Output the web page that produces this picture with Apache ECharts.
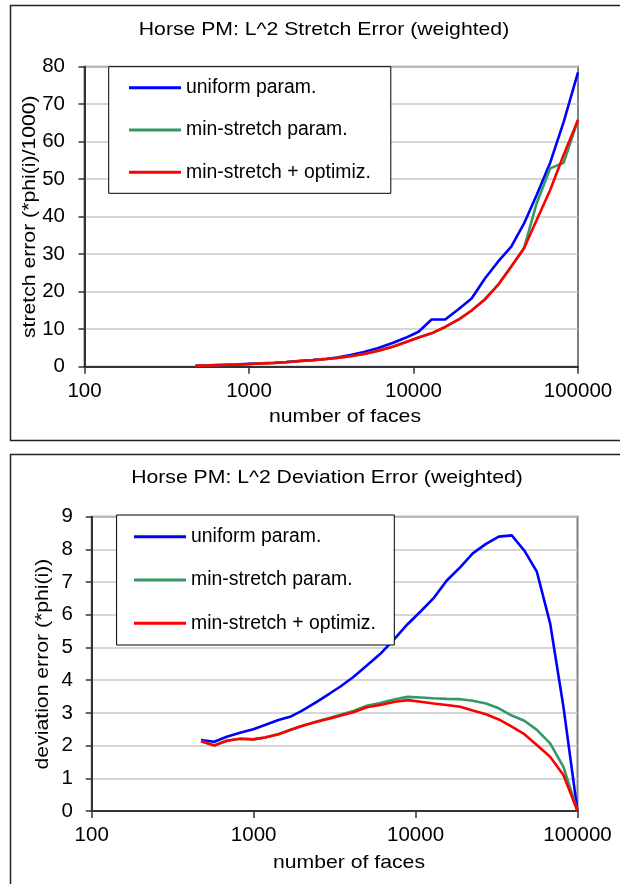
<!DOCTYPE html>
<html>
<head>
<meta charset="utf-8">
<script src="https://cdn.jsdelivr.net/npm/echarts@6/dist/echarts.min.js"></script>
<style>
html,body{margin:0;padding:0;background:#fff;}
#c{width:620px;height:884px;}
</style>
</head>
<body>
<div id="c"></div>
<script>
// ---- data ----
const faces = [473, 572, 682, 824, 995, 1175, 1422, 1679, 1982, 2453, 2964, 3420, 4130, 5000, 6039, 7467, 8950, 10740, 12880, 15590, 18840, 22550, 27240, 32640, 39290, 46990, 56080, 67760, 81850, 100000];
const seriesNames = ['uniform param.', 'min-stretch param.', 'min-stretch + optimiz.'];

// top chart: stretch error (*phi(i)/1000)
const stretchUniform   = [0.27, 0.37, 0.47, 0.58, 0.75, 0.9, 1.05, 1.25, 1.5, 1.8, 2.1, 2.45, 3.1, 3.9, 4.9, 6.3, 7.7, 9.33, 12.6, 12.6, 15.4, 18.2, 23.6, 28.0, 32.0, 38.2, 45.8, 54.4, 65.3, 78.5];
const stretchMinStr    = [0.25, 0.35, 0.45, 0.55, 0.7, 0.85, 1.0, 1.2, 1.45, 1.75, 2.05, 2.3, 2.8, 3.4, 4.2, 5.3, 6.5, 7.8, 8.9, 10.6, 12.6, 15.0, 18.0, 21.8, 26.7, 31.6, 43.6, 52.9, 54.4, 65.8];
const stretchOptimized = [0.25, 0.35, 0.45, 0.55, 0.7, 0.85, 1.0, 1.2, 1.45, 1.75, 2.05, 2.3, 2.8, 3.4, 4.2, 5.3, 6.5, 7.8, 8.9, 10.6, 12.6, 15.0, 18.0, 21.8, 26.7, 31.6, 39.1, 47.1, 56.5, 65.8];

// bottom chart: deviation error (*phi(i))
const devUniform   = [2.17, 2.12, 2.27, 2.39, 2.50, 2.63, 2.78, 2.88, 3.06, 3.34, 3.60, 3.80, 4.10, 4.45, 4.80, 5.28, 5.72, 6.10, 6.50, 7.05, 7.45, 7.88, 8.17, 8.39, 8.43, 7.96, 7.32, 5.74, 3.19, 0];
const devMinStr    = [2.13, 2.01, 2.15, 2.21, 2.19, 2.25, 2.35, 2.48, 2.60, 2.74, 2.85, 2.94, 3.06, 3.22, 3.30, 3.42, 3.49, 3.47, 3.45, 3.43, 3.42, 3.37, 3.29, 3.14, 2.92, 2.76, 2.48, 2.07, 1.35, 0];
const devOptimized = [2.13, 2.00, 2.15, 2.21, 2.19, 2.25, 2.35, 2.48, 2.60, 2.73, 2.83, 2.91, 3.02, 3.17, 3.24, 3.34, 3.39, 3.34, 3.29, 3.24, 3.19, 3.07, 2.96, 2.80, 2.58, 2.35, 2.02, 1.66, 1.10, 0];

const xTickLabels = ['100', '1000', '10000', '100000'];
const topTitle = 'Horse PM: L^2 Stretch Error (weighted)';
const botTitle = 'Horse PM: L^2 Deviation Error (weighted)';
const xName = 'number of faces';
const topYName = 'stretch error (*phi(i)/1000)';
const botYName = 'deviation error (*phi(i))';

// ---- styling ----
const FONT = '"Liberation Sans", Arial, sans-serif';
const colors = ['#0000ff', '#339966', '#ff0000'];
const pair = (vals) => faces.map((f, i) => [f, vals[i]]);

function xAxis(gi) {
  return {
    type: 'log', logBase: 10, min: 100, max: 100000, gridIndex: gi,
    axisLine: { show: true, lineStyle: { color: '#333', width: 2 } },
    axisTick: { show: true, inside: false, length: 7, lineStyle: { color: '#333', width: 1.5 } },
    splitLine: { show: false },
    minorTick: { show: false },
    axisLabel: {
      margin: 14, color: '#000', fontFamily: FONT, fontSize: 20.5,
      formatter: (v) => {
        const k = Math.round(Math.log10(v)) - 2;
        return xTickLabels[k] !== undefined ? xTickLabels[k] : '';
      }
    }
  };
}
function yAxis(gi, max, interval, margin) {
  return {
    type: 'value', min: 0, max: max, interval: interval, gridIndex: gi,
    axisLine: { show: true, lineStyle: { color: '#333', width: 2 } },
    axisTick: { show: true, inside: false, length: 6, lineStyle: { color: '#333', width: 1.5 } },
    splitLine: { show: true, lineStyle: { color: '#c8c8c8', width: 1.5 } },
    axisLabel: { margin: margin, color: '#000', fontFamily: FONT, fontSize: 20.5 }
  };
}
function line(name, gi, vals, ci) {
  return {
    name: name, type: 'line', xAxisIndex: gi, yAxisIndex: gi,
    data: pair(vals), showSymbol: false, symbol: 'none',
    lineStyle: { color: colors[ci], width: 2.6 }, itemStyle: { color: colors[ci] },
    animation: false, z: 2 + ci
  };
}
function txt(text, x, y, rot) {
  return {
    type: 'text', x: x, y: y, rotation: rot || 0, scaleX: 1.14, silent: true, z: 10,
    style: {
      text: text, font: '18.6px ' + FONT, fill: '#000',
      align: 'center', verticalAlign: 'middle', textAlign: 'center', textVerticalAlign: 'middle'
    }
  };
}
function legend(left, top, padding, gap) {
  return {
    orient: 'vertical', left: left, top: top, padding: padding, itemGap: gap,
    itemWidth: 52, itemHeight: 3, icon: 'rect',
    backgroundColor: '#fff', borderColor: '#000', borderWidth: 1,
    data: seriesNames, selectedMode: false,
    textStyle: { fontFamily: FONT, fontSize: 19.4, color: '#000', lineHeight: 22 }
  };
}

const chart = echarts.init(document.getElementById('c'), null, { renderer: 'canvas' });
chart.setOption({
  animation: false,
  backgroundColor: '#fff',
  grid: [
    { left: 84.5, top: 66.7, width: 493.5, height: 300, show: true, borderColor: '#808080', borderWidth: 2, backgroundColor: 'transparent' },
    { left: 91.7, top: 516.7, width: 485.8, height: 294.3, show: true, borderColor: '#808080', borderWidth: 2, backgroundColor: 'transparent' }
  ],
  xAxis: [xAxis(0), xAxis(1)],
  yAxis: [yAxis(0, 80, 10, 19.5), yAxis(1, 9, 1, 18.7)],
  legend: [
    legend(108.7, 66.7, [10, 20, 10, 20.3], 20.3),
    legend(116.6, 515, [10.7, 18.5, 10.7, 17.4], 21.3)
  ],
  series: [
    line(seriesNames[0], 0, stretchUniform, 0),
    line(seriesNames[1], 0, stretchMinStr, 1),
    line(seriesNames[2], 0, stretchOptimized, 2),
    line(seriesNames[0], 1, devUniform, 0),
    line(seriesNames[1], 1, devMinStr, 1),
    line(seriesNames[2], 1, devOptimized, 2)
  ],
  graphic: [
    { type: 'rect', silent: true, z: 0, shape: { x: 10.5, y: 5.5, width: 700, height: 435 }, style: { fill: 'none', stroke: '#222', lineWidth: 1.5 } },
    { type: 'rect', silent: true, z: 0, shape: { x: 10.5, y: 454.5, width: 700, height: 500 }, style: { fill: 'none', stroke: '#222', lineWidth: 1.5 } },
    txt(topTitle, 324, 30),
    txt(botTitle, 327, 477.7),
    txt(xName, 345, 416.7),
    txt(xName, 349, 863.3),
    txt(topYName, 30, 216.7, Math.PI / 2),
    txt(botYName, 43, 664, Math.PI / 2)
  ]
});
</script>
</body>
</html>
